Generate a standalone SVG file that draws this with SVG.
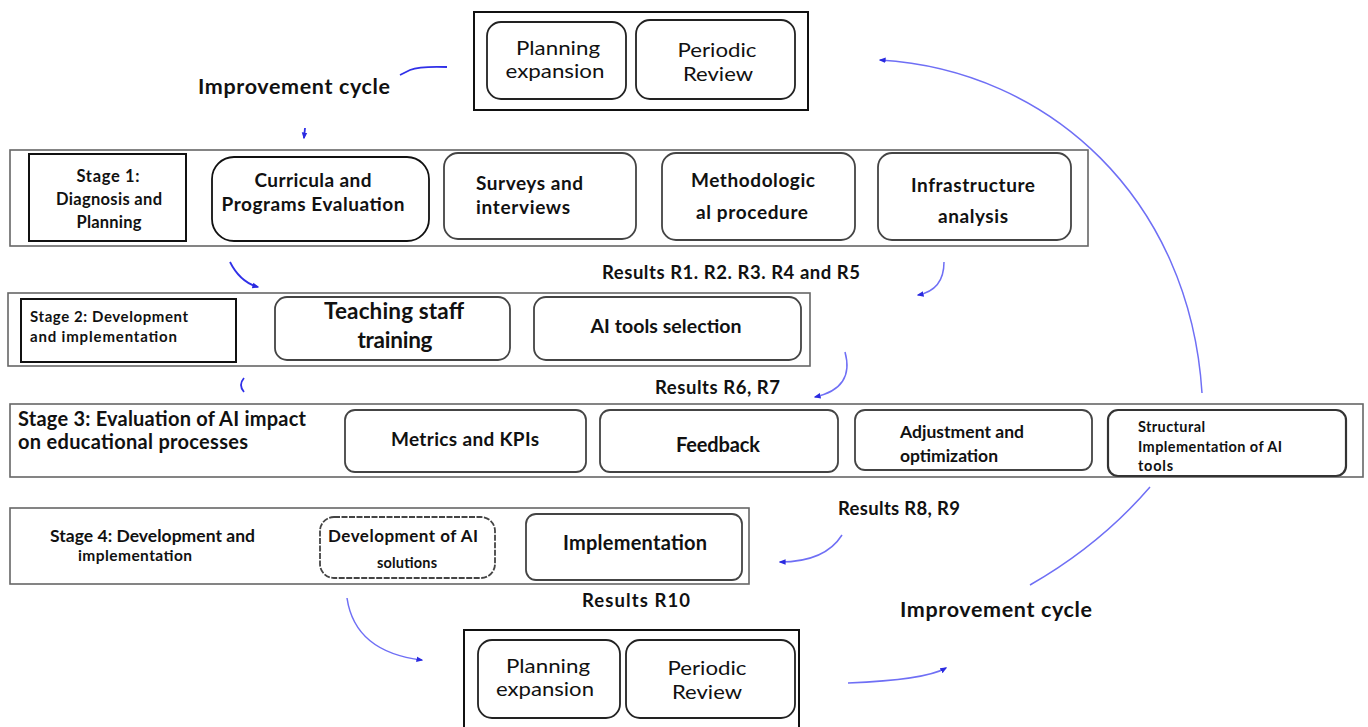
<svg xmlns="http://www.w3.org/2000/svg" width="1368" height="727" viewBox="0 0 1368 727">
<style>
.t{font-family:Lato,"Liberation Sans",sans-serif;fill:#111;}
.b{font-weight:bold;}
.m{text-anchor:middle;}
.outer{fill:none;stroke:#666;stroke-width:1.6;}
.frame{fill:none;stroke:#111;stroke-width:2;}
.box{fill:#fff;stroke:#444;stroke-width:1.8;}
.conn{fill:none;stroke:#6f6ff5;stroke-width:1.5;}
.conn2{fill:none;stroke:#3030e8;stroke-width:1.8;}
</style>
<defs>
<marker id="ah" viewBox="0 0 10 10" refX="8" refY="5" markerWidth="7" markerHeight="7" orient="auto-start-reverse" markerUnits="userSpaceOnUse">
<path d="M0,1 L10,5 L0,9 Z" fill="#2a2ae0"/>
</marker>
</defs>
<rect width="1368" height="727" fill="#fff"/>

<g id="connectors">
<path class="conn2" d="M400,75 L410,70 Q420,66 447,67"/>
<path class="conn2" d="M305,128 L304,138" marker-end="url(#ah)"/>
<path class="conn2" d="M230,262 Q240,282 258,287" marker-end="url(#ah)"/>
<path class="conn" d="M944,262 Q944,290 918,295" marker-end="url(#ah)"/>
<path class="conn2" d="M244,378 Q238,385 244,392"/>
<path class="conn" d="M845,352 Q855,388 815,397" marker-end="url(#ah)"/>
<path class="conn" d="M1202,393 C1190,200 1050,70 880,60" marker-end="url(#ah)"/>
<path class="conn" d="M1030,585 Q1100,545 1150,487"/>
<path class="conn" d="M842,535 Q825,562 780,562" marker-end="url(#ah)"/>
<path class="conn" d="M347,598 Q355,652 422,660" marker-end="url(#ah)"/>
<path class="conn" d="M848,683 Q925,680 946,668" marker-end="url(#ah)"/>
</g>

<g id="top-review">
<rect class="frame" x="474" y="12" width="334" height="98"/>
<rect class="box" x="487" y="22" width="139" height="77" rx="14" style="stroke:#222"/>
<text class="t m" x="558" y="55" font-size="19" textLength="84" lengthAdjust="spacingAndGlyphs">Planning</text>
<text class="t m" x="555" y="78" font-size="19" textLength="99" lengthAdjust="spacingAndGlyphs">expansion</text>
<rect class="box" x="636" y="20" width="159" height="79" rx="14" style="stroke:#222"/>
<text class="t m" x="717" y="57" font-size="19" textLength="79" lengthAdjust="spacingAndGlyphs">Periodic</text>
<text class="t m" x="718" y="81" font-size="19" textLength="70" lengthAdjust="spacingAndGlyphs">Review</text>
</g>

<text id="label-improvement-top" class="t b" x="198" y="94" font-size="21.5" textLength="192">Improvement cycle</text>

<g id="stage1">
<rect class="outer" x="10" y="150" width="1078" height="96"/>
<rect class="frame" x="29" y="154" width="157" height="87"/>
<text class="t b m" x="108" y="182" font-size="16.5" textLength="63">Stage 1:</text>
<text class="t b m" x="109" y="205" font-size="16.5" textLength="106">Diagnosis and</text>
<text class="t b m" x="109" y="228" font-size="16.5" textLength="65">Planning</text>
<rect class="box" x="212" y="157" width="217" height="84" rx="22" style="stroke:#111"/>
<text class="t b m" x="313" y="187" font-size="19" textLength="117">Curricula and</text>
<text class="t b m" x="313" y="211" font-size="19" textLength="183">Programs Evaluation</text>
<rect class="box" x="444" y="153" width="192" height="86" rx="14"/>
<text class="t b" x="476" y="190" font-size="19" textLength="107">Surveys and</text>
<text class="t b" x="476" y="214" font-size="19" textLength="94">interviews</text>
<rect class="box" x="662" y="153" width="193" height="87" rx="14"/>
<text class="t b m" x="753" y="187" font-size="19" textLength="124">Methodologic</text>
<text class="t b m" x="752" y="219" font-size="19" textLength="112">al procedure</text>
<rect class="box" x="878" y="153" width="193" height="87" rx="14"/>
<text class="t b m" x="973" y="192" font-size="19" textLength="124">Infrastructure</text>
<text class="t b m" x="973" y="223" font-size="19" textLength="70">analysis</text>
</g>

<text id="label-r1-r5" class="t b" x="602" y="279" font-size="18.5" textLength="258">Results R1. R2. R3. R4 and R5</text>

<g id="stage2">
<rect class="outer" x="8" y="293" width="802" height="73"/>
<rect class="frame" x="21" y="299" width="215" height="63"/>
<text class="t b" x="30" y="322" font-size="15" textLength="158">Stage 2: Development</text>
<text class="t b" x="30" y="342" font-size="15" textLength="147">and implementation</text>
<rect class="box" x="275" y="297" width="235" height="63" rx="12"/>
<text class="t b m" x="394" y="319" font-size="22.5" textLength="140">Teaching staff</text>
<text class="t b m" x="395" y="348" font-size="22.5" textLength="75">training</text>
<rect class="box" x="534" y="297" width="267" height="63" rx="12"/>
<text class="t b m" x="666" y="333" font-size="19.5" textLength="151">AI tools selection</text>
</g>

<text id="label-r6-r7" class="t b" x="655" y="394" font-size="18.5" textLength="125">Results R6, R7</text>

<g id="stage3">
<rect class="outer" x="10" y="404" width="1353" height="73"/>
<text class="t b" x="18" y="426" font-size="20" textLength="288">Stage 3: Evaluation of AI impact</text>
<text class="t b" x="18" y="449" font-size="20" textLength="230">on educational processes</text>
<rect class="box" x="345" y="410" width="241" height="62" rx="10"/>
<text class="t b m" x="465" y="446" font-size="19" textLength="148">Metrics and KPIs</text>
<rect class="box" x="600" y="410" width="238" height="62" rx="10"/>
<text class="t b m" x="718" y="452" font-size="20" textLength="84">Feedback</text>
<rect class="box" x="855" y="410" width="237" height="60" rx="10"/>
<text class="t b" x="900" y="438" font-size="17.5" textLength="124">Adjustment and</text>
<text class="t b" x="900" y="462" font-size="17.5" textLength="98">optimization</text>
<rect class="box" x="1108" y="410" width="238" height="66" rx="10" style="stroke:#333;stroke-width:2.2"/>
<text class="t b" x="1138" y="432" font-size="14.5" textLength="67">Structural</text>
<text class="t b" x="1138" y="452" font-size="14.5" textLength="144">Implementation of AI</text>
<text class="t b" x="1138" y="471" font-size="14.5" textLength="35">tools</text>
</g>

<text id="label-r8-r9" class="t b" x="838" y="515" font-size="18.5" textLength="122">Results R8, R9</text>

<g id="stage4">
<rect class="outer" x="10" y="508" width="739" height="76"/>
<text class="t b" x="50" y="542" font-size="17.5" textLength="205">Stage 4: Development and</text>
<text class="t b" x="78" y="561" font-size="15.5" textLength="114">implementation</text>
<rect class="box" x="320" y="517" width="175" height="61" rx="14" style="stroke-dasharray:6 1.5"/>
<text class="t b m" x="403" y="542" font-size="17" textLength="150">Development of AI</text>
<text class="t b m" x="407" y="568" font-size="14.5" textLength="60">solutions</text>
<rect class="box" x="526" y="514" width="216" height="66" rx="10"/>
<text class="t b m" x="635" y="550" font-size="20" textLength="144">Implementation</text>
</g>

<text id="label-r10" class="t b" x="582" y="607" font-size="18.5" textLength="108">Results R10</text>

<g id="bottom-review">
<rect class="frame" x="464" y="630" width="335" height="100"/>
<rect class="box" x="478" y="640" width="142" height="78" rx="14" style="stroke:#222"/>
<text class="t m" x="548" y="673" font-size="19" textLength="84" lengthAdjust="spacingAndGlyphs">Planning</text>
<text class="t m" x="545" y="696" font-size="19" textLength="98" lengthAdjust="spacingAndGlyphs">expansion</text>
<rect class="box" x="626" y="640" width="169" height="78" rx="14" style="stroke:#222"/>
<text class="t m" x="707" y="675" font-size="19" textLength="79" lengthAdjust="spacingAndGlyphs">Periodic</text>
<text class="t m" x="707" y="699" font-size="19" textLength="70" lengthAdjust="spacingAndGlyphs">Review</text>
</g>

<text id="label-improvement-bottom" class="t b" x="900" y="617" font-size="21.5" textLength="192">Improvement cycle</text>
</svg>
